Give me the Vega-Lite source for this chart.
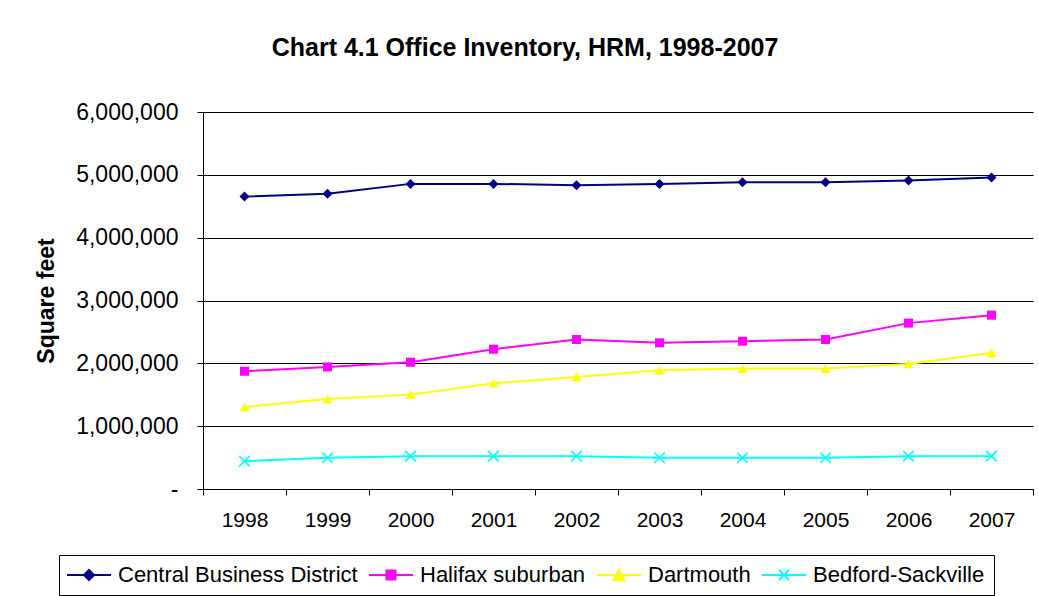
{
  "$schema": "https://vega.github.io/schema/vega-lite/v6.json",
  "width": 830,
  "height": 377,
  "autosize": {"type": "none"},
  "padding": {"left": 203, "top": 112, "right": 6, "bottom": 107},
  "background": "white",
  "config": {"font": "Liberation Sans", "view": {"stroke": null}},
  "title": {
    "text": "Chart 4.1 Office Inventory, HRM, 1998-2007",
    "font": "Liberation Sans",
    "fontSize": 25,
    "fontWeight": "bold",
    "color": "black",
    "anchor": "middle",
    "dx": -93,
    "baseline": "alphabetic",
    "offset": 20
  },
  "data": {
    "values": [
      {"year": "1998", "series": "Central Business District", "value": 4654000},
      {"year": "1999", "series": "Central Business District", "value": 4700000},
      {"year": "2000", "series": "Central Business District", "value": 4856000},
      {"year": "2001", "series": "Central Business District", "value": 4856000},
      {"year": "2002", "series": "Central Business District", "value": 4836000},
      {"year": "2003", "series": "Central Business District", "value": 4856000},
      {"year": "2004", "series": "Central Business District", "value": 4883000},
      {"year": "2005", "series": "Central Business District", "value": 4883000},
      {"year": "2006", "series": "Central Business District", "value": 4909000},
      {"year": "2007", "series": "Central Business District", "value": 4957000},
      {"year": "1998", "series": "Halifax suburban", "value": 1874000},
      {"year": "1999", "series": "Halifax suburban", "value": 1943000},
      {"year": "2000", "series": "Halifax suburban", "value": 2018000},
      {"year": "2001", "series": "Halifax suburban", "value": 2225000},
      {"year": "2002", "series": "Halifax suburban", "value": 2379000},
      {"year": "2003", "series": "Halifax suburban", "value": 2326000},
      {"year": "2004", "series": "Halifax suburban", "value": 2352000},
      {"year": "2005", "series": "Halifax suburban", "value": 2379000},
      {"year": "2006", "series": "Halifax suburban", "value": 2640000},
      {"year": "2007", "series": "Halifax suburban", "value": 2767000},
      {"year": "1998", "series": "Dartmouth", "value": 1305000},
      {"year": "1999", "series": "Dartmouth", "value": 1432000},
      {"year": "2000", "series": "Dartmouth", "value": 1502000},
      {"year": "2001", "series": "Dartmouth", "value": 1683000},
      {"year": "2002", "series": "Dartmouth", "value": 1784000},
      {"year": "2003", "series": "Dartmouth", "value": 1890000},
      {"year": "2004", "series": "Dartmouth", "value": 1917000},
      {"year": "2005", "series": "Dartmouth", "value": 1917000},
      {"year": "2006", "series": "Dartmouth", "value": 1990000},
      {"year": "2007", "series": "Dartmouth", "value": 2166000},
      {"year": "1998", "series": "Bedford-Sackville", "value": 444000},
      {"year": "1999", "series": "Bedford-Sackville", "value": 497000},
      {"year": "2000", "series": "Bedford-Sackville", "value": 523000},
      {"year": "2001", "series": "Bedford-Sackville", "value": 523000},
      {"year": "2002", "series": "Bedford-Sackville", "value": 523000},
      {"year": "2003", "series": "Bedford-Sackville", "value": 497000},
      {"year": "2004", "series": "Bedford-Sackville", "value": 497000},
      {"year": "2005", "series": "Bedford-Sackville", "value": 497000},
      {"year": "2006", "series": "Bedford-Sackville", "value": 523000},
      {"year": "2007", "series": "Bedford-Sackville", "value": 523000}
    ]
  },
  "encoding": {
    "x": {
      "field": "year",
      "type": "ordinal",
      "bandPosition": 0.5,
      "scale": {"type": "band", "paddingInner": 0, "paddingOuter": 0},
      "axis": {
        "title": null,
        "labelAngle": 0,
        "tickBand": "extent",
        "grid": false,
        "domainColor": "black",
        "tickColor": "black",
        "tickSize": 6,
        "labelFontSize": 21,
        "labelColor": "black",
        "labelPadding": 14
      }
    },
    "y": {
      "field": "value",
      "type": "quantitative",
      "scale": {"domain": [0, 6000000]},
      "axis": {
        "title": "Square feet",
        "titleFontSize": 23,
        "titleFontWeight": "bold",
        "titleColor": "black",
        "titleX": -157,
        "titleY": 188.5,
        "titleAngle": -90,
        "titleAlign": "center",
        "titleBaseline": "middle",
        "values": [0, 1000000, 2000000, 3000000, 4000000, 5000000, 6000000],
        "labelExpr": "datum.value == 0 ? '-' : format(datum.value, ',')",
        "labelFontSize": 23,
        "labelColor": "black",
        "labelPadding": 19,
        "tickSize": 6,
        "tickColor": "black",
        "domainColor": "black",
        "gridColor": "black",
        "gridOpacity": 1,
        "gridWidth": 1
      }
    }
  },
  "layer": [
    {
      "mark": {"type": "line", "strokeWidth": 2},
      "encoding": {
        "color": {
          "field": "series",
          "type": "nominal",
          "scale": {
            "domain": ["Central Business District", "Halifax suburban", "Dartmouth", "Bedford-Sackville"],
            "range": ["#000080", "#FF00FF", "#FFFF00", "#00FFFF"]
          },
          "legend": {
            "orient": "none",
            "legendX": -144,
            "legendY": 443,
            "direction": "horizontal",
            "title": null,
            "labelFontSize": 22,
            "labelColor": "black",
            "labelLimit": 500,
            "symbolSize": 100,
            "labelOffset": 28,
            "columnPadding": 7,
            "padding": 9,
            "strokeColor": "black",
            "fillColor": "white",
            "encode": {
              "symbols": {
                "update": {
                  "shape": {"signal": "datum.value === 'Central Business District' ? 'M-2.4,0L6.4,0M2,-1L3,0L2,1L1,0Z' : datum.value === 'Halifax suburban' ? 'M-2.4,0L6.4,0M1.1,-0.9L2.9,-0.9L2.9,0.9L1.1,0.9Z' : datum.value === 'Dartmouth' ? 'M-2.4,0L6.4,0M2,-1L3.1,1L0.9,1Z' : 'M-2.4,0L6.4,0M1,-1L3,1M1,1L3,-1'"},
                  "fill": {"scale": "color", "field": "value"},
                  "stroke": {"scale": "color", "field": "value"},
                  "strokeWidth": {"value": 2}
                }
              }
            }
          }
        }
      }
    },
    {
      "transform": [{"filter": "datum.series === 'Central Business District'"}],
      "mark": {"type": "point", "shape": "diamond", "filled": true, "size": 100, "color": "#000080", "opacity": 1}
    },
    {
      "transform": [{"filter": "datum.series === 'Halifax suburban'"}],
      "mark": {"type": "point", "shape": "square", "filled": true, "size": 81, "color": "#FF00FF", "opacity": 1}
    },
    {
      "transform": [{"filter": "datum.series === 'Dartmouth'"}],
      "mark": {"type": "point", "shape": "triangle-up", "filled": true, "size": 100, "color": "#FFFF00", "opacity": 1}
    },
    {
      "transform": [{"filter": "datum.series === 'Bedford-Sackville'"}],
      "mark": {"type": "point", "shape": "M-1,-1L1,1M-1,1L1,-1", "filled": false, "size": 110, "color": "#00FFFF", "strokeWidth": 1.5, "opacity": 1}
    }
  ]
}
